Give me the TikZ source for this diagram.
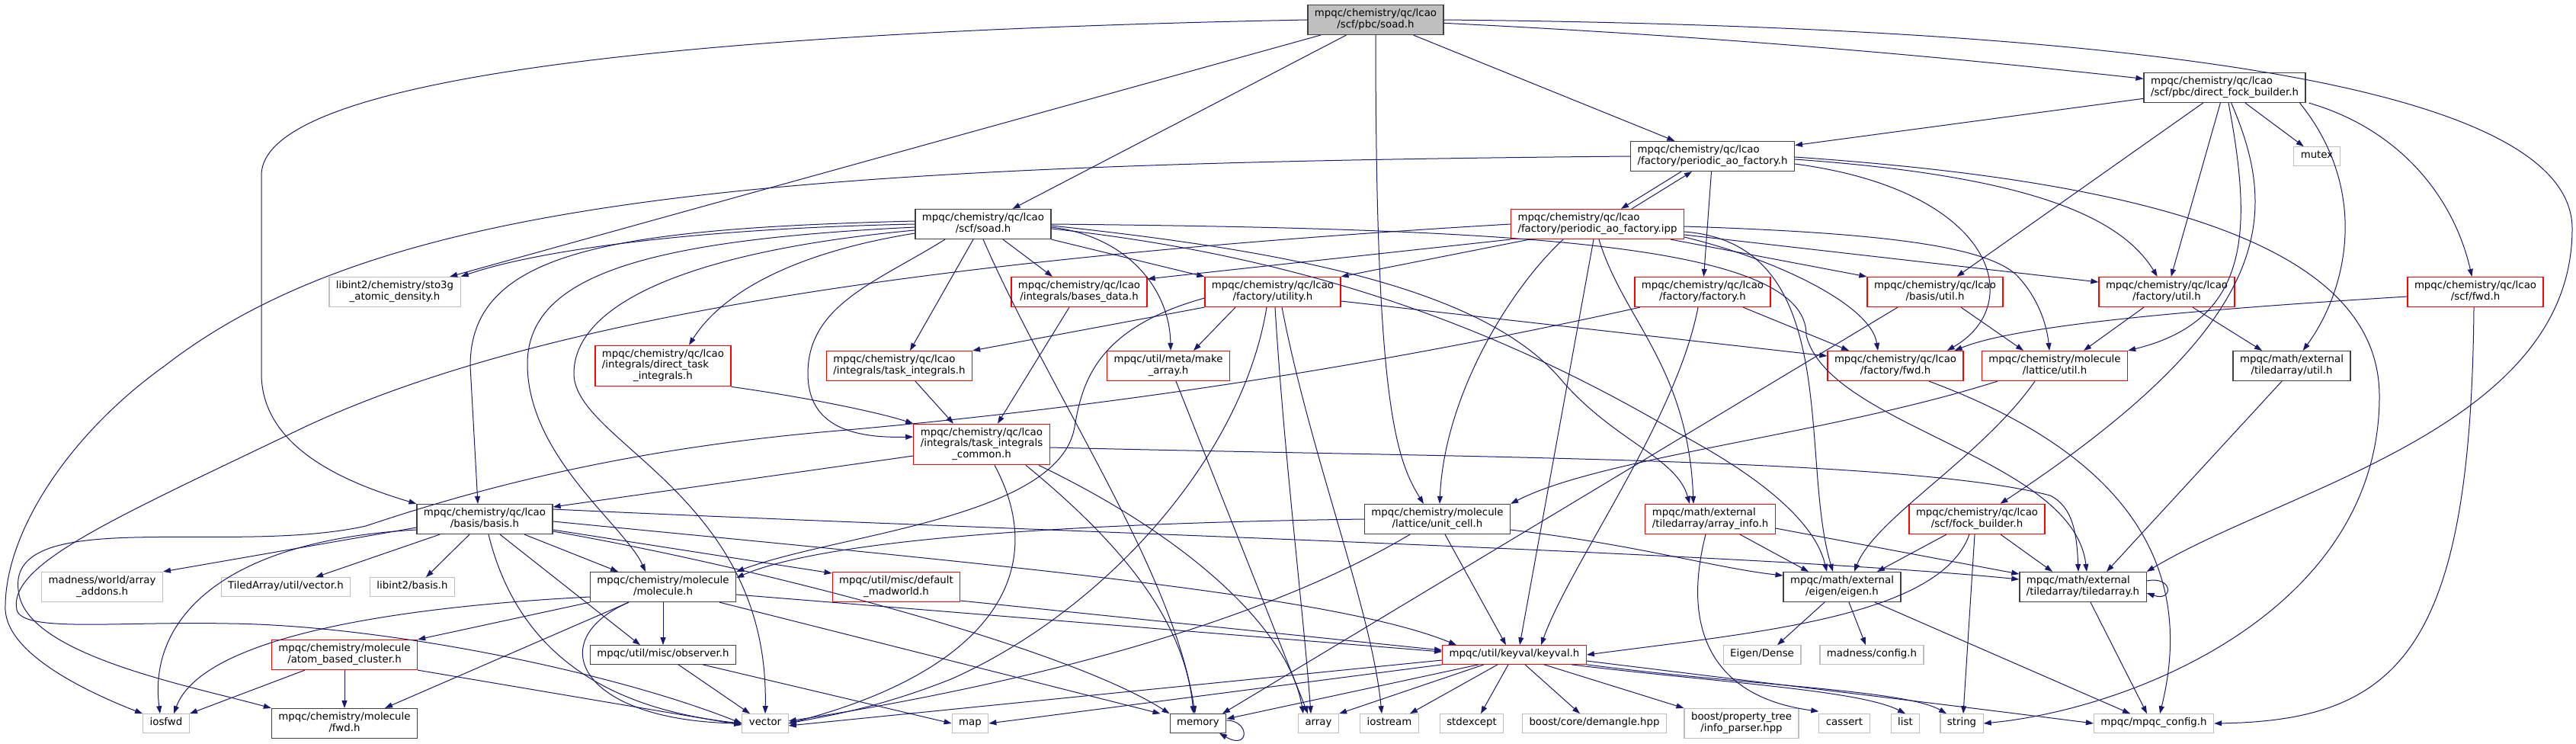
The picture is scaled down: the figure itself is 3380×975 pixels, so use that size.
\documentclass[tikz,border=0pt]{standalone}
\usepackage{fontspec}
\setmainfont{DejaVu Sans}
\usetikzlibrary{arrows.meta}
\definecolor{eb}{HTML}{191970}
\definecolor{gsev}{HTML}{BFBFBF}
\definecolor{bdk}{HTML}{404040}
\newcommand{\Ltwo}[2]{\begin{tabular}{@{}l@{}}#1\\\multicolumn{1}{@{}c@{}}{#2}\end{tabular}}
\newcommand{\Lthree}[3]{\begin{tabular}{@{}l@{}}#1\\#2\\\multicolumn{1}{@{}c@{}}{#3}\end{tabular}}
\tikzset{
 nd/.style={rectangle, inner xsep=9pt, inner ysep=5pt, line width=1.2pt, fill=white, font=\fontsize{13.33pt}{14.5pt}\selectfont},
 bk/.style={nd, draw=bdk},
 rd/.style={nd, draw=red},
 gy/.style={nd, draw=gsev},
 topn/.style={nd, draw=bdk, fill=gsev},
 e/.style={draw=eb, line width=1pt, -{Triangle[length=10pt,width=7pt]}},
}
\begin{document}
\begin{tikzpicture}[x=1pt,y=-1pt]
\fill[white] (0,0) rectangle (3380,975);
\useasboundingbox (0,0) rectangle (3380,975);
% nodes
\node[topn] (n0) at (1805,26) {\Ltwo{mpqc/chemistry/qc/lcao}{/scf/pbc/soad.h}};
\node[bk] (dfb) at (2919,115) {\Ltwo{mpqc/chemistry/qc/lcao}{/scf/pbc/direct\_fock\_builder.h}};
\node[bk] (paofh) at (2247,205) {\Ltwo{mpqc/chemistry/qc/lcao}{/factory/periodic\_ao\_factory.h}};
\node[gy] (mutex) at (3040,205) {\strut mutex};
\node[bk] (soadh) at (1290,294) {\Ltwo{mpqc/chemistry/qc/lcao}{/scf/soad.h}};
\node[rd] (paofi) at (2096,294) {\Ltwo{mpqc/chemistry/qc/lcao}{/factory/periodic\_ao\_factory.ipp}};
\node[gy] (sto) at (518,383) {\Ltwo{libint2/chemistry/sto3g}{\_atomic\_density.h}};
\node[rd] (bases) at (1416,383) {\Ltwo{mpqc/chemistry/qc/lcao}{/integrals/bases\_data.h}};
\node[rd] (utility) at (1670,383) {\Ltwo{mpqc/chemistry/qc/lcao}{/factory/utility.h}};
\node[rd] (facth) at (2234,383) {\Ltwo{mpqc/chemistry/qc/lcao}{/factory/factory.h}};
\node[rd] (butil) at (2539,383) {\Ltwo{mpqc/chemistry/qc/lcao}{/basis/util.h}};
\node[rd] (futil) at (2843,383) {\Ltwo{mpqc/chemistry/qc/lcao}{/factory/util.h}};
\node[rd] (scffwd) at (3248,383) {\Ltwo{mpqc/chemistry/qc/lcao}{/scf/fwd.h}};
\node[rd] (dti) at (870,480) {\Lthree{mpqc/chemistry/qc/lcao}{/integrals/direct\_task}{\_integrals.h}};
\node[rd] (ti) at (1180,480) {\Ltwo{mpqc/chemistry/qc/lcao}{/integrals/task\_integrals.h}};
\node[rd] (mkarr) at (1533,480) {\Ltwo{mpqc/util/meta/make}{\_array.h}};
\node[rd] (ffwd) at (2487,480) {\Ltwo{mpqc/chemistry/qc/lcao}{/factory/fwd.h}};
\node[rd] (lutil) at (2696,480) {\Ltwo{mpqc/chemistry/molecule}{/lattice/util.h}};
\node[bk] (tautil) at (3007,480) {\Ltwo{mpqc/math/external}{/tiledarray/util.h}};
\node[rd] (tic) at (1288,583) {\Lthree{mpqc/chemistry/qc/lcao}{/integrals/task\_integrals}{\_common.h}};
\node[bk] (basis) at (636,681) {\Ltwo{mpqc/chemistry/qc/lcao}{/basis/basis.h}};
\node[bk] (ucell) at (1886,681) {\Ltwo{mpqc/chemistry/molecule}{/lattice/unit\_cell.h}};
\node[rd] (ainfo) at (2244,681) {\Ltwo{mpqc/math/external}{/tiledarray/array\_info.h}};
\node[rd] (fockb) at (2594,681) {\Ltwo{mpqc/chemistry/qc/lcao}{/scf/fock\_builder.h}};
\node[gy] (addons) at (134,770) {\Ltwo{madness/world/array}{\_addons.h}};
\node[gy] (tavec) at (375,770) {\strut TiledArray/util/vector.h};
\node[gy] (libb) at (541,770) {\strut libint2/basis.h};
\node[bk] (mol) at (870,770) {\Ltwo{mpqc/chemistry/molecule}{/molecule.h}};
\node[rd] (madw) at (1176,770) {\Ltwo{mpqc/util/misc/default}{\_madworld.h}};
\node[bk] (eigen) at (2417,770) {\Ltwo{mpqc/math/external}{/eigen/eigen.h}};
\node[bk] (tarr) at (2733,770) {\Ltwo{mpqc/math/external}{/tiledarray/tiledarray.h}};
\node[rd] (abc) at (452,859) {\Ltwo{mpqc/chemistry/molecule}{/atom\_based\_cluster.h}};
\node[bk] (obs) at (870,859) {\strut mpqc/util/misc/observer.h};
\node[rd] (keyval) at (1987,859) {\strut mpqc/util/keyval/keyval.h};
\node[gy] (edense) at (2312,859) {\strut Eigen/Dense};
\node[gy] (mconf) at (2456,859) {\strut madness/config.h};
\node[gy] (iosfwd) at (218,949) {\strut iosfwd};
\node[bk] (molfwd) at (452,949) {\Ltwo{mpqc/chemistry/molecule}{/fwd.h}};
\node[gy] (vector) at (1004,949) {\strut vector};
\node[gy] (map) at (1273,949) {\strut map};
\node[bk] (memory) at (1572,949) {\strut memory};
\node[gy] (array) at (1730,949) {\strut array};
\node[gy] (iostream) at (1823,949) {\strut iostream};
\node[gy] (stdexc) at (1931,949) {\strut stdexcept};
\node[gy] (demangle) at (2092,949) {\strut boost/core/demangle.hpp};
\node[gy] (ptree) at (2285,949) {\Ltwo{boost/property\_tree}{/info\_parser.hpp}};
\node[gy] (cassert) at (2420,949) {\strut cassert};
\node[gy] (list) at (2500,949) {\strut list};
\node[gy] (string) at (2574,949) {\strut string};
\node[gy] (mcfg) at (2826,949) {\strut mpqc/mpqc\_config.h};
% edges from top node
\draw[e] (n0.west) .. controls (1000,40) and (343,90) .. (343,230) -- (343,490) .. controls (343,590) and (460,635) .. (basis.north west);
\draw[e] (n0) -- (sto);
\draw[e] (n0) -- (soadh);
\draw[e] (n0.south) .. controls (1805,520) and (1830,600) .. ([xshift=-18pt]ucell.north);
\draw[e] (n0) -- (paofh);
\draw[e] (n0) .. controls (2300,50) and (2600,80) .. (dfb);
\draw[e] (n0.east) .. controls (2800,35) and (3375,110) .. (3375,300) .. controls (3375,560) and (3000,640) .. (tarr.north east);
% direct_fock_builder
\draw[e] (dfb) -- (paofh);
\draw[e] (dfb) -- (butil);
\draw[e] (dfb) -- (futil);
\draw[e] (dfb) -- (mutex);
\draw[e] ([xshift=5pt]dfb.south) .. controls (2955,300) and (2955,420) .. (lutil.north east);
\draw[e] (dfb) .. controls (2990,280) and (2990,420) .. (fockb);
\draw[e] ([xshift=-8pt]dfb.south east) .. controls (3110,250) and (3080,380) .. (tautil);
\draw[e] ([xshift=4pt]dfb.south east) .. controls (3150,170) and (3220,260) .. (scffwd);
% periodic_ao_factory.h
\draw[e] ([xshift=-41pt]paofh.south) -- ([xshift=31pt]paofi.north);
\draw[e] ([xshift=45pt]paofi.north) -- ([xshift=-27pt]paofh.south);
\draw[e] (paofh) -- (facth);
\draw[e] ([yshift=-4pt]paofh.east) .. controls (2650,230) and (2780,280) .. (futil);
\draw[e] ([yshift=-10pt]paofh.east) .. controls (2620,250) and (2660,400) .. ([xshift=-22pt]ffwd.north east);
\draw[e] ([yshift=-1pt]paofh.east) .. controls (2850,240) and (3122,330) .. (3122,520) .. controls (3122,800) and (2800,930) .. (string.east);
\draw[e] (paofh.west) .. controls (1000,215) and (500,260) .. (216,480) .. controls (90,570) and (5,700) .. (7,800) .. controls (10,860) and (120,910) .. (iosfwd.north west);
% periodic_ao_factory.ipp
\draw[e] (paofi.south west) -- ([yshift=-3pt]bases.north east);
\draw[e] ([xshift=25pt]paofi.south west) -- (utility.north east);
\draw[e] ([xshift=-45pt]paofi.south) .. controls (1980,380) and (1895,520) .. ([xshift=3pt]ucell.north);
\draw[e] ([xshift=-5pt]paofi.south) -- ([xshift=7pt]keyval.north);
\draw[e] ([xshift=2pt]paofi.south) .. controls (2130,420) and (2215,480) .. ([xshift=-22pt]ainfo.north);
\draw[e] ([xshift=-18pt]paofi.south east) -- (butil.north west);
\draw[e] ([yshift=-14pt]paofi.east) -- ([yshift=13pt]futil.west);
\draw[e] ([yshift=-17pt]paofi.east) .. controls (2330,340) and (2455,400) .. ([xshift=-23pt]ffwd.north);
\draw[e] ([yshift=-3pt]paofi.east) .. controls (2450,305) and (2600,320) .. (2645,360) .. controls (2670,385) and (2685,420) .. ([xshift=-7pt]lutil.north);
\draw[e] (paofi.west) .. controls (1200,340) and (700,420) .. (400,560) .. controls (150,680) and (10,740) .. (22,800) .. controls (30,830) and (150,815) .. (300,818) .. controls (500,820) and (800,880) .. (vector.west);
\draw[e] ([yshift=-10pt]paofi.east) .. controls (2420,320) and (2360,600) .. ([xshift=-12pt]eigen.north);
% scf/soad.h
\draw[e] (soadh.west) .. controls (900,300) and (700,330) .. (sto.north east);
\draw[e] ([yshift=4pt]soadh.west) .. controls (800,300) and (617,330) .. (617,480) -- ([xshift=-9pt]basis.north);
\draw[e] ([yshift=-4pt]soadh.west) .. controls (850,315) and (690,360) .. (692,480) .. controls (694,600) and (820,690) .. ([xshift=-23pt]mol.north);
\draw[e] ([yshift=-8pt]soadh.west) .. controls (900,330) and (753,400) .. (753,490) .. controls (753,580) and (1010,650) .. (vector.north);
\draw[e] ([yshift=-12pt]soadh.west) .. controls (1050,330) and (950,380) .. ([xshift=34pt]dti.north);
\draw[e] ([xshift=-50pt]soadh.south) .. controls (1150,370) and (1060,400) .. (1060,490) .. controls (1060,560) and (1120,575) .. ([yshift=10pt]tic.west);
\draw[e] ([xshift=-13pt]soadh.south) -- ([xshift=14pt]ti.north);
\draw[e] (soadh.south) .. controls (1380,520) and (1540,750) .. ([xshift=-4pt]memory.north);
\draw[e] ([xshift=26pt]soadh.south) -- ([xshift=-35pt]bases.north);
\draw[e] (soadh.south east) -- (utility.north west);
\draw[e] ([yshift=-4pt]soadh.east) .. controls (1480,310) and (1535,380) .. ([xshift=3pt]mkarr.north);
\draw[e] ([yshift=-2pt]soadh.east) .. controls (1700,330) and (1950,380) .. (2050,500) .. controls (2120,580) and (2200,600) .. ([xshift=-27pt]ainfo.north);
\draw[e] (soadh.east) .. controls (2000,300) and (2372,320) .. (2370,440) .. controls (2400,560) and (2720,600) .. ([xshift=5pt]tarr.north);
\draw[e] ([yshift=-6pt]soadh.east) .. controls (1750,340) and (2000,450) .. (2200,567) .. controls (2300,620) and (2380,680) .. ([xshift=-20pt]eigen.north);
% utility.h
\draw[e] (utility.south west) -- (ti.north east);
\draw[e] ([yshift=-8pt]utility.west) .. controls (1440,430) and (1420,500) .. (1410,560) .. controls (1390,680) and (1100,700) .. (mol.north east);
\draw[e] ([xshift=-49pt]utility.south) -- ([xshift=33pt]mkarr.north);
\draw[e] ([xshift=-8pt]utility.south) .. controls (1630,600) and (1450,800) .. (1250,890) .. controls (1150,930) and (1080,940) .. (vector.east);
\draw[e] ([xshift=3pt]utility.south) .. controls (1685,600) and (1710,800) .. ([xshift=-10pt]array.north);
\draw[e] ([xshift=12pt]utility.south) .. controls (1720,600) and (1800,800) .. ([xshift=-10pt]iostream.north);
\draw[e] ([yshift=-12pt]utility.east) -- ([yshift=13pt]ffwd.west);
% integrals
\draw[e] ([xshift=-13pt]bases.south) -- ([xshift=21pt]tic.north);
\draw[e] ([xshift=21pt]ti.south) -- ([xshift=-37pt]tic.north);
\draw[e] (dti.south east) .. controls (1050,520) and (1150,540) .. (tic.north west);
\draw[e] ([xshift=10pt]mkarr.south) -- ([xshift=-14pt]array.north);
\draw[e] ([yshift=-15pt]tic.west) -- ([yshift=16pt]basis.east);
\draw[e] ([yshift=-4pt]tic.east) .. controls (1900,600) and (2500,600) .. (2690,650) .. controls (2720,665) and (2725,700) .. ([xshift=-6pt]tarr.north);
\draw[e] ([xshift=17pt]tic.south) .. controls (1380,750) and (1300,880) .. (vector.east);
\draw[e] ([xshift=58pt]tic.south) .. controls (1480,720) and (1555,820) .. ([xshift=-6pt]memory.north);
\draw[e] ([xshift=75pt]tic.south) .. controls (1550,700) and (1690,820) .. ([xshift=-20pt]array.north);
% basis.h
\draw[e] ([yshift=-11pt]basis.west) -- (addons.north east);
\draw[e] ([yshift=-14pt]basis.west) .. controls (280,710) and (195,820) .. ([xshift=-8pt]iosfwd.north);
\draw[e] ([xshift=-59pt]basis.south) -- ([xshift=39pt]tavec.north);
\draw[e] ([xshift=-20pt]basis.south) -- ([xshift=18pt]libb.north);
\draw[e] ([xshift=5pt]basis.south) .. controls (680,860) and (800,930) .. (vector.west);
\draw[e] ([xshift=20pt]basis.south) -- ([xshift=-30pt]obs.north);
\draw[e] ([xshift=52pt]basis.south) -- ([xshift=-59pt]mol.north);
\draw[e] ([yshift=-14pt]basis.east) -- ([yshift=18pt]madw.west);
\draw[e] ([yshift=13pt]basis.east) .. controls (1300,695) and (2300,725) .. ([yshift=10pt]tarr.west);
\draw[e] ([yshift=-3pt]basis.east) .. controls (1300,740) and (1750,780) .. ([xshift=-76pt]keyval.north);
\draw[e] ([yshift=-16pt]basis.east) .. controls (1000,745) and (1400,850) .. (memory.north west);
% molecule.h
\draw[e] (mol.south west) -- (abc.north east);
\draw[e] ([yshift=-13pt]mol.west) .. controls (450,800) and (260,850) .. ([xshift=10pt]iosfwd.north);
\draw[e] ([xshift=-45pt]mol.south) -- ([xshift=53pt]molfwd.north);
\draw[e] ([xshift=-45pt]mol.south) .. controls (710,840) and (760,945) .. (vector.west);
\draw[e] (mol) -- (obs);
\draw[e] ([xshift=74pt]mol.south) -- ([xshift=-12pt]memory.north west);
\draw[e] ([yshift=-10pt]mol.east) -- ([yshift=4pt]keyval.west);
% atom_based_cluster, observer, madworld
\draw[e] ([xshift=-52pt]abc.south) -- (iosfwd.north east);
\draw[e] (abc) -- (molfwd);
\draw[e] (abc.south east) -- ([yshift=-2pt]vector.west);
\draw[e] ([xshift=20pt]obs.south) -- ([xshift=-20pt]vector.north);
\draw[e] ([xshift=52pt]obs.south) -- (map.west);
\draw[e] ([yshift=-18pt]madw.east) -- ([yshift=6pt]keyval.west);
% unit_cell.h
\draw[e] (ucell.west) .. controls (1500,685) and (1100,700) .. ([yshift=12pt]mol.east);
\draw[e] ([xshift=10pt]ucell.south) -- ([xshift=-11pt]keyval.north);
\draw[e] ([xshift=-36pt]ucell.south) .. controls (1600,850) and (1200,920) .. ([yshift=3pt]vector.east);
\draw[e] ([yshift=-14pt]ucell.east) .. controls (2150,715) and (2250,745) .. ([yshift=15pt]eigen.west);
% lattice/util.h, tiledarray/util.h, factory/util.h, basis/util.h
\draw[e] ([xshift=-75pt]lutil.south) .. controls (2400,570) and (2100,600) .. (ucell.north east);
\draw[e] ([xshift=-26pt]lutil.south) .. controls (2600,600) and (2460,680) .. ([xshift=16pt]eigen.north);
\draw[e] ([xshift=-13pt]tautil.south) -- ([xshift=31pt]tarr.north);
\draw[e] ([xshift=-30pt]futil.south) -- ([xshift=38pt]lutil.north);
\draw[e] ([xshift=34pt]futil.south) -- ([xshift=-39pt]tautil.north);
\draw[e] ([xshift=34pt]butil.south) -- ([xshift=-41pt]lutil.north);
\draw[e] ([xshift=-49pt]butil.south) -- ([xshift=32pt]memory.north);
% scf/fwd.h, factory.h, factory/fwd.h
\draw[e] ([yshift=-6pt]scffwd.west) .. controls (2900,405) and (2650,425) .. ([xshift=-12pt]ffwd.north east);
\draw[e] ([xshift=-2pt]scffwd.south) .. controls (3242,850) and (3150,945) .. (mcfg.east);
\draw[e] ([xshift=53pt]facth.south) -- ([xshift=-61pt]ffwd.north);
\draw[e] ([xshift=-6pt]facth.south) .. controls (2200,550) and (2060,740) .. ([xshift=35pt]keyval.north);
\draw[e] ([xshift=-82pt]facth.south) .. controls (1850,470) and (1500,530) .. (1100,565) .. controls (800,590) and (600,650) .. (480,690) .. controls (300,730) and (0,660) .. (25,780) .. controls (40,860) and (250,900) .. (molfwd.north west);
\draw[e] ([xshift=44pt]ffwd.south) .. controls (2800,600) and (2880,750) .. ([xshift=8pt]mcfg.north);
% array_info, fock_builder
\draw[e] ([xshift=39pt]ainfo.south) -- ([xshift=-44pt]eigen.north);
\draw[e] ([yshift=-12pt]ainfo.east) -- ([yshift=17pt]tarr.west);
\draw[e] ([xshift=-6pt]ainfo.south) .. controls (2205,830) and (2250,915) .. ([yshift=3pt]cassert.north west);
\draw[e] ([xshift=-40pt]fockb.south) -- ([xshift=46pt]eigen.north);
\draw[e] ([xshift=31pt]fockb.south) -- ([xshift=-40pt]tarr.north);
\draw[e] ([xshift=-10pt]fockb.south) .. controls (2545,810) and (2300,830) .. (keyval.east);
\draw[e] ([xshift=-3pt]fockb.south) -- ([xshift=2pt]string.north);
% eigen, tiledarray
\draw[e] ([xshift=-23pt]eigen.south) -- ([xshift=20pt]edense.north);
\draw[e] ([xshift=9pt]eigen.south) -- ([xshift=-8pt]mconf.north);
\draw[e] ([xshift=43pt]eigen.south) -- ([xshift=-31pt]mcfg.north);
\draw[e] ([yshift=8pt]tarr.east) .. controls (2852,755) and (2852,790) .. ([yshift=-8pt]tarr.east);
\draw[e] ([xshift=10pt]tarr.south) -- ([xshift=-9pt]mcfg.north);
% keyval
\draw[e] ([yshift=-7pt]keyval.west) -- ([yshift=-3pt]vector.east);
\draw[e] (keyval.south west) -- (map.east);
\draw[e] ([xshift=-47pt]keyval.south) -- ([yshift=6pt]memory.east);
\draw[e] ([xshift=-40pt]keyval.south) -- (array.north east);
\draw[e] ([xshift=-22pt]keyval.south) -- ([xshift=27pt]iostream.north);
\draw[e] ([xshift=-8pt]keyval.south) -- ([xshift=12pt]stdexc.north);
\draw[e] ([xshift=14pt]keyval.south) -- ([xshift=-19pt]demangle.north);
\draw[e] ([xshift=39pt]keyval.south) -- (ptree.north west);
\draw[e] ([xshift=75pt]keyval.south) .. controls (2250,895) and (2440,905) .. (list.north);
\draw[e] (keyval.south east) .. controls (2300,900) and (2500,905) .. ([xshift=-20pt]string.north);
\draw[e] ([yshift=-8pt]keyval.east) .. controls (2350,900) and (2600,930) .. (mcfg.west);
% memory self loop
\draw[e] ([yshift=4pt]memory.east) .. controls (1640,945) and (1640,985) .. ([xshift=28pt]memory.south);
\end{tikzpicture}
\end{document}
